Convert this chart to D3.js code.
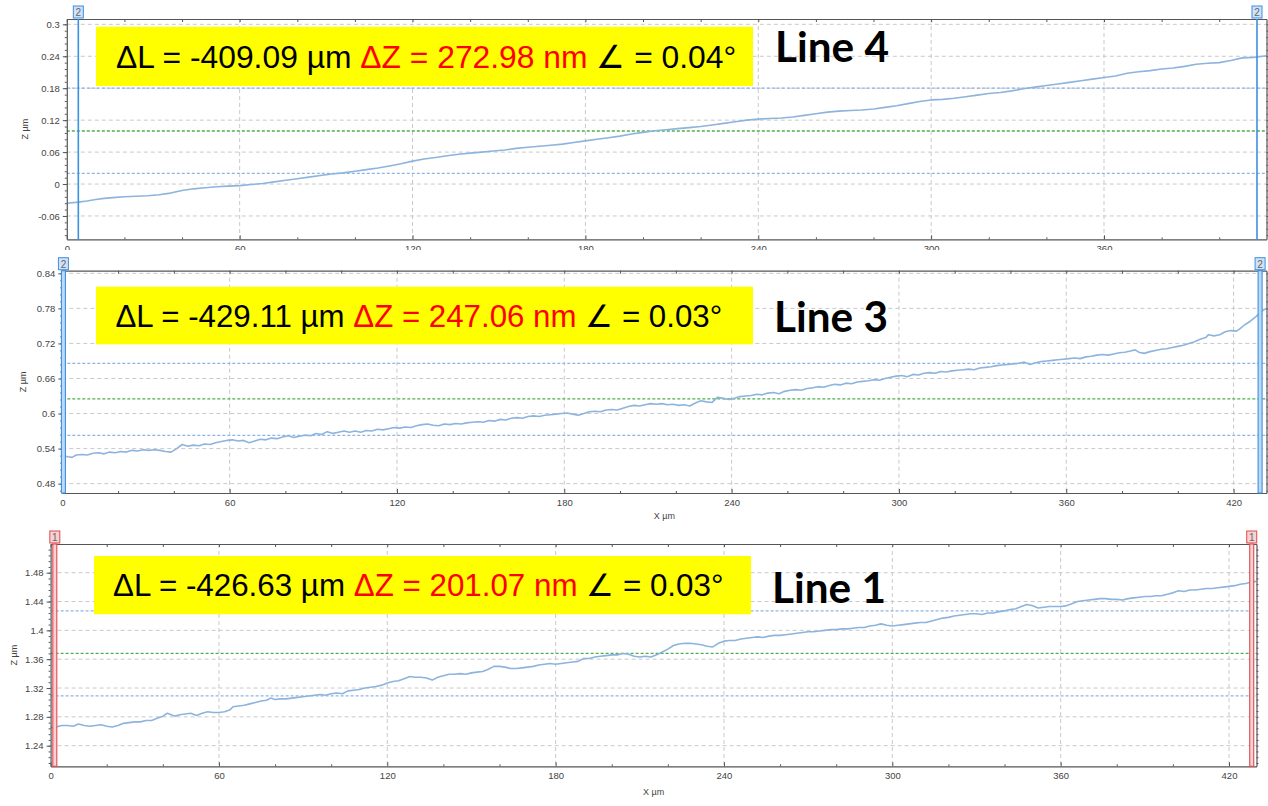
<!DOCTYPE html>
<html><head><meta charset="utf-8">
<script src="https://cdn.jsdelivr.net/npm/d3@7"></script>
<style>
html,body{margin:0;padding:0;background:#fff;}
svg{display:block;}
</style></head>
<body>
<svg id="chart" width="1268" height="806"></svg>
<script>
// ---------------- DATA ----------------
const xTicks = [0, 60, 120, 180, 240, 300, 360, 420];
const xMinor = [20, 40, 80, 100, 140, 160, 200, 220, 260, 280, 320, 340, 380, 400, 440];

// Line 4 (top)
const line4X = [0,4,7,10,13,17,20,24,28,32,36,40,44,48,52,56,60,64,68,72,76,80,84,88,92,96,100,104,108,112,116,120,124,128,132,136,140,144,148,152,156,160,164,168,172,176,180,184,188,192,196,200,204,208,212,216,220,224,228,232,236,240,244,248,252,256,260,264,268,272,276,280,284,288,292,296,300,304,308,312,316,320,324,328,332,336,340,344,348,352,356,360,364,368,372,376,380,384,388,392,396,400,404,408,412,416.4];
const line4Z = [-0.036,-0.034,-0.032,-0.029,-0.027,-0.025,-0.024,-0.023,-0.022,-0.020,-0.017,-0.012,-0.009,-0.007,-0.005,-0.004,-0.003,-0.001,0.001,0.004,0.007,0.010,0.013,0.016,0.019,0.021,0.024,0.027,0.030,0.034,0.038,0.043,0.047,0.050,0.053,0.056,0.058,0.060,0.062,0.064,0.067,0.069,0.071,0.073,0.075,0.078,0.081,0.084,0.087,0.090,0.094,0.097,0.100,0.102,0.104,0.106,0.108,0.111,0.114,0.117,0.120,0.122,0.123,0.124,0.126,0.129,0.132,0.135,0.137,0.138,0.139,0.141,0.144,0.147,0.151,0.155,0.158,0.159,0.161,0.164,0.167,0.170,0.172,0.175,0.179,0.182,0.185,0.188,0.191,0.194,0.197,0.200,0.203,0.208,0.211,0.213,0.216,0.218,0.221,0.225,0.227,0.228,0.232,0.237,0.238,0.241];
const line4YTicks = [-0.06, 0, 0.06, 0.12, 0.18, 0.24, 0.3];
const line4YLabels = ["-0.06", "0", "0.06", "0.12", "0.18", "0.24", "0.3"];
const line4RefBlue = [0.18, 0.0202];
const line4RefGreen = [0.0996];
const line4Cursors = [4.0, 413.1];
const line4Text = ["\u0394L = -409.09 \u00b5m ", "\u0394Z = 272.98 nm", " \u2220 = 0.04\u00b0"];
const line4Name = "Line 4";

// Line 3 (middle)
const line3X = [0,2,3.5,5,7,9,11,13,15,17,19,21,23,25,27,29,31,33,35,37,39,41,43,45,47,49,51,53,55,57,59,61,63,65,67,69,71,73,75,77,79,81,83,85,87,89,91,93,95,97,99,101,103,105,107,109,111,113,115,117,119,121,123,125,127,129,131,133,135,137,139,141,143,145,147,149,151,153,155,157,159,161,163,165,167,169,171,173,175,177,179,181,183,185,187,189,191,193,195,197,199,201,203,205,207,209,211,213,215,217,219,221,223,225,227,229,231,233,235,237,239,241,243,245,247,249,251,253,255,257,259,261,263,265,267,269,271,273,275,277,279,281,283,285,287,289,291,293,295,297,299,301,303,305,307,309,311,313,315,317,319,321,323,325,327,329,331,333,335,337,339,341,343,345,347,349,351,353,355,357,359,361,363,365,367,369,371,373,375,377,379,381,383,384.7,386,388,390,392,394,396,398,400,402,404,406,408,410,411,413,415,417,419,421,422,424,426,428,430,431.8];
const line3Z = [0.528,0.526,0.525,0.529,0.530,0.529,0.532,0.533,0.531,0.534,0.533,0.535,0.534,0.537,0.536,0.538,0.537,0.538,0.537,0.535,0.534,0.540,0.547,0.544,0.546,0.545,0.548,0.547,0.550,0.552,0.554,0.555,0.553,0.554,0.550,0.553,0.556,0.555,0.558,0.557,0.560,0.562,0.559,0.561,0.563,0.562,0.566,0.564,0.569,0.566,0.568,0.570,0.568,0.570,0.568,0.571,0.570,0.573,0.572,0.574,0.576,0.575,0.577,0.576,0.579,0.581,0.582,0.580,0.579,0.582,0.581,0.583,0.582,0.584,0.585,0.586,0.585,0.588,0.587,0.590,0.589,0.592,0.593,0.592,0.595,0.596,0.595,0.597,0.598,0.599,0.600,0.601,0.599,0.597,0.600,0.603,0.604,0.603,0.606,0.607,0.606,0.609,0.612,0.614,0.613,0.615,0.617,0.616,0.617,0.615,0.616,0.614,0.615,0.613,0.618,0.622,0.620,0.619,0.628,0.626,0.624,0.626,0.629,0.630,0.631,0.633,0.632,0.635,0.636,0.634,0.638,0.640,0.641,0.640,0.643,0.644,0.646,0.645,0.648,0.650,0.649,0.652,0.651,0.654,0.655,0.656,0.658,0.657,0.660,0.662,0.664,0.665,0.663,0.667,0.666,0.669,0.670,0.669,0.672,0.671,0.673,0.674,0.675,0.676,0.675,0.678,0.679,0.680,0.682,0.683,0.684,0.685,0.686,0.688,0.684,0.687,0.689,0.690,0.691,0.692,0.693,0.694,0.695,0.694,0.697,0.698,0.700,0.701,0.700,0.702,0.704,0.705,0.707,0.709,0.705,0.703,0.706,0.708,0.710,0.711,0.713,0.715,0.717,0.720,0.723,0.727,0.730,0.735,0.733,0.735,0.740,0.742,0.741,0.744,0.752,0.758,0.766,0.775,0.780];
const line3YTicks = [0.48, 0.54, 0.6, 0.66, 0.72, 0.78, 0.84];
const line3YLabels = ["0.48", "0.54", "0.6", "0.66", "0.72", "0.78", "0.84"];
const line3RefBlue = [0.686, 0.5628];
const line3RefGreen = [0.625];
const line3Cursors = [0.4, 429.5];
const line3Text = ["\u0394L = -429.11 \u00b5m ", "\u0394Z = 247.06 nm", " \u2220 = 0.03\u00b0"];
const line3Name = "Line 3";

// Line 1 (bottom)
const line1X = [0,2,4,6,8,10,12,14,16,18,20,22,24,26,28,30,32,34,36,38,40,41.6,43,44.3,46,48,50,52,54,56,58,60,62,64,65,67,69,71,73,75,77,78.4,80,82,84,86,88,90,92,94,96,98,100,102,104,106,108,110,112,114,116,118,120,122,124,126,128,130,132,134,136,138,140,142,144,146,148,150,152,154,156,158,160,162,164,166,168,170,172,174,176,178,180,182,184,186,188,190,192,194,196,198,200,202,204,206,208,210,212,214,216,218,220,222,224,226,228,230,232,234,236,238,240,242,244,246,248,250,252,254,256,258,260,262,264,266,268,270,272,274,276,278,280,282,284,286,288,290,292,294,296,298,300,302,304,306,308,310,312,314,316,318,320,322,324,326,328,330,332,334,336,338,340,342,344,346,348,350,352,354,356,358,360,362,364,366,368,370,372,374,376,378,380,382,384,386,388,390,392,394,396,398,400,402,404,406,408,410,412,414,416,418,420,422,424,426,428,429.8];
const line1Z = [1.265,1.266,1.268,1.268,1.267,1.270,1.268,1.267,1.268,1.269,1.267,1.266,1.268,1.271,1.272,1.273,1.273,1.275,1.275,1.278,1.281,1.285,1.283,1.281,1.283,1.284,1.285,1.282,1.285,1.287,1.286,1.286,1.287,1.290,1.294,1.295,1.296,1.298,1.300,1.302,1.303,1.306,1.304,1.305,1.305,1.306,1.307,1.308,1.309,1.310,1.311,1.310,1.312,1.313,1.312,1.316,1.317,1.318,1.320,1.321,1.322,1.324,1.327,1.329,1.330,1.333,1.336,1.335,1.335,1.334,1.331,1.335,1.337,1.339,1.339,1.340,1.339,1.341,1.342,1.343,1.346,1.350,1.350,1.349,1.347,1.347,1.348,1.349,1.350,1.352,1.353,1.354,1.353,1.354,1.355,1.356,1.357,1.361,1.361,1.363,1.364,1.365,1.366,1.366,1.368,1.367,1.364,1.363,1.364,1.363,1.366,1.370,1.374,1.379,1.381,1.382,1.382,1.381,1.380,1.378,1.377,1.382,1.385,1.386,1.386,1.388,1.389,1.390,1.391,1.390,1.392,1.393,1.393,1.394,1.395,1.396,1.397,1.398,1.398,1.399,1.400,1.401,1.401,1.402,1.402,1.403,1.404,1.404,1.406,1.407,1.409,1.407,1.406,1.407,1.408,1.409,1.410,1.411,1.411,1.413,1.415,1.417,1.418,1.420,1.421,1.422,1.423,1.423,1.422,1.424,1.424,1.426,1.427,1.429,1.430,1.433,1.436,1.434,1.431,1.432,1.433,1.433,1.433,1.434,1.437,1.440,1.441,1.442,1.443,1.444,1.444,1.443,1.443,1.442,1.444,1.445,1.446,1.447,1.447,1.448,1.448,1.450,1.452,1.455,1.454,1.456,1.456,1.457,1.458,1.458,1.459,1.460,1.461,1.462,1.464,1.465,1.467,1.468];
const line1YTicks = [1.24, 1.28, 1.32, 1.36, 1.4, 1.44, 1.48];
const line1YLabels = ["1.24", "1.28", "1.32", "1.36", "1.4", "1.44", "1.48"];
const line1RefBlue = [1.4269, 1.309];
const line1RefGreen = [1.368];
const line1Cursors = [1.5, 428.1];
const line1Text = ["\u0394L = -426.63 \u00b5m ", "\u0394Z = 201.07 nm", " \u2220 = 0.03\u00b0"];
const line1Name = "Line 1";

// ---------------- LAYOUT ----------------
const panels = [
  { xs: line4X, zs: line4Z, yTicks: line4YTicks, yLabels: line4YLabels, yMinorStep: 0.012,
    blue: line4RefBlue, green: line4RefGreen, cursors: line4Cursors, text: line4Text, name: line4Name,
    xMax: 416.4, yDomain: [-0.1038, 0.31], left: 66.8, right: 1266.5, top: 19, bottom: 239.3,
    clipBottom: 250, cursorColor: "#3d8fe0", cursorFill: "#3d8fe0", cursorW: 1.6, markerFill: "#cfe2f7", marker: "2",
    box: [96, 26.7, 753, 86], textX: 116, textW: 620, nameX: 775, nameBase: 62, zLabelX: 25, xLabelY: 265 },
  { xs: line3X, zs: line3Z, yTicks: line3YTicks, yLabels: line3YLabels, yMinorStep: 0.012,
    blue: line3RefBlue, green: line3RefGreen, cursors: line3Cursors, text: line3Text, name: line3Name,
    xMax: 431.8, yDomain: [0.464, 0.8445], left: 62.3, right: 1266.5, top: 270.7, bottom: 493,
    clipBottom: 525, cursorColor: "#3d8fe0", cursorFill: "#bcd9f5", cursorW: 4, markerFill: "#cfe2f7", marker: "2",
    box: [96, 286.7, 753, 344.3], textX: 115.5, textW: 607, nameX: 774, nameBase: 331.5, zLabelX: 23, xLabelY: 519 },
  { xs: line1X, zs: line1Z, yTicks: line1YTicks, yLabels: line1YLabels, yMinorStep: 0.008,
    blue: line1RefBlue, green: line1RefGreen, cursors: line1Cursors, text: line1Text, name: line1Name,
    xMax: 429.8, yDomain: [1.2114, 1.5198], left: 50.6, right: 1256.5, top: 544, bottom: 766.3,
    clipBottom: 806, cursorColor: "#e0494f", cursorFill: "#f7d3d5", cursorW: 4, markerFill: "#f6d2d4", marker: "1",
    box: [94, 556, 751, 614.3], textX: 113, textW: 611, nameX: 772, nameBase: 603, zLabelX: 14, xLabelY: 795 }
];

const svg = d3.select("#chart");
const defs = svg.append("defs");

panels.forEach((p, pi) => {
  const clipTop = pi === 0 ? 0 : panels[pi - 1].clipBottom;
  defs.append("clipPath").attr("id", "clip" + pi)
    .append("rect").attr("x", 0).attr("y", clipTop).attr("width", 1268).attr("height", p.clipBottom - clipTop);
  const g = svg.append("g").attr("clip-path", `url(#clip${pi})`);

  const x = d3.scaleLinear().domain([0, p.xMax]).range([p.left, p.right]);
  const y = d3.scaleLinear().domain(p.yDomain).range([p.bottom, p.top]);

  // grid
  g.append("g").selectAll("line").data(xTicks.filter(d => d > 0 && d < p.xMax)).join("line")
    .attr("x1", d => x(d)).attr("x2", d => x(d)).attr("y1", p.top).attr("y2", p.bottom)
    .attr("stroke", "#c9c9c9").attr("stroke-width", 1).attr("stroke-dasharray", "4,3");
  g.append("g").selectAll("line").data(p.yTicks).join("line")
    .attr("x1", p.left).attr("x2", p.right).attr("y1", d => y(d)).attr("y2", d => y(d))
    .attr("stroke", "#c9c9c9").attr("stroke-width", 1).attr("stroke-dasharray", "4,3");

  // reference lines
  g.append("g").selectAll("line").data(p.blue).join("line")
    .attr("x1", p.left).attr("x2", p.right).attr("y1", d => y(d)).attr("y2", d => y(d))
    .attr("stroke", "#8fb5e3").attr("stroke-width", 1.2).attr("stroke-dasharray", "3,2");
  g.append("g").selectAll("line").data(p.green).join("line")
    .attr("x1", p.left).attr("x2", p.right).attr("y1", d => y(d)).attr("y2", d => y(d))
    .attr("stroke", "#4fae4f").attr("stroke-width", 1.3).attr("stroke-dasharray", "3,2");

  // profile
  const pts = p.xs.map((xv, i) => [xv, p.zs[i]]);
  g.append("path").datum(pts)
    .attr("d", d3.line().x(d => x(d[0])).y(d => y(d[1])))
    .attr("fill", "none").attr("stroke", "#8db4dd").attr("stroke-width", 1.6).attr("stroke-linejoin", "round");

  // axes
  const axStyle = sel => {
    sel.selectAll(".domain").attr("stroke", "#555").attr("stroke-width", 1.2);
    sel.selectAll(".tick line").attr("stroke", "#555");
    sel.selectAll(".tick text").attr("fill", "#444").style("font-family", "'Liberation Sans', Arial, sans-serif").style("font-size", "9.5px");
  };
  g.append("g").attr("transform", `translate(0,${p.bottom})`)
    .call(d3.axisBottom(x).tickValues(xTicks.filter(d => d <= p.xMax)).tickFormat(d3.format("d"))
      .tickSizeInner(-4).tickSizeOuter(0).tickPadding(6)).call(axStyle);
  g.append("g").attr("transform", `translate(0,${p.bottom})`)
    .call(d3.axisBottom(x).tickValues(xMinor.filter(d => d <= p.xMax)).tickFormat("").tickSizeInner(-2).tickSizeOuter(0))
    .call(axStyle).select(".domain").remove();
  g.append("g").attr("transform", `translate(0,${p.top})`)
    .call(d3.axisTop(x).tickValues(xTicks.concat(xMinor).filter(d => d <= p.xMax)).tickFormat("").tickSizeInner(-3).tickSizeOuter(0))
    .call(axStyle);

  const yMinor = d3.range(Math.ceil(p.yDomain[0] / p.yMinorStep), Math.floor(p.yDomain[1] / p.yMinorStep) + 1)
    .map(k => +(k * p.yMinorStep).toFixed(4));
  g.append("g").attr("transform", `translate(${p.left},0)`)
    .call(d3.axisLeft(y).tickValues(p.yTicks).tickFormat((d, i) => p.yLabels[i]).tickSizeInner(4).tickSizeOuter(0).tickPadding(3))
    .call(axStyle);
  g.append("g").attr("transform", `translate(${p.left},0)`)
    .call(d3.axisLeft(y).tickValues(yMinor).tickFormat("").tickSizeInner(2).tickSizeOuter(0))
    .call(axStyle).select(".domain").remove();
  g.append("g").attr("transform", `translate(${p.right},0)`)
    .call(d3.axisRight(y).tickValues(yMinor).tickFormat("").tickSizeInner(2).tickSizeOuter(0))
    .call(axStyle);

  // axis titles
  g.append("text").attr("transform", `translate(${p.zLabelX},${(p.top + p.bottom) / 2}) rotate(-90)`)
    .attr("text-anchor", "middle").attr("dy", "0.35em")
    .style("font-family", "'Liberation Sans', Arial, sans-serif").style("font-size", "9px").attr("fill", "#444")
    .text("Z \u00b5m");
  g.append("text").attr("x", (p.left + p.right) / 2).attr("y", p.xLabelY).attr("text-anchor", "middle")
    .style("font-family", "'Liberation Sans', Arial, sans-serif").style("font-size", "9px").attr("fill", "#444")
    .text("X \u00b5m");

  // cursors
  p.cursors.forEach(c => {
    const cx = x(c);
    if (p.cursorW > 2) {
      g.append("rect").attr("x", cx - p.cursorW / 2).attr("y", p.top).attr("width", p.cursorW).attr("height", p.bottom - p.top)
        .attr("fill", p.cursorFill).attr("stroke", p.cursorColor).attr("stroke-width", 1.1);
    } else {
      g.append("line").attr("x1", cx).attr("x2", cx).attr("y1", p.top).attr("y2", p.bottom)
        .attr("stroke", p.cursorColor).attr("stroke-width", p.cursorW);
    }
    g.append("rect").attr("x", cx - 5).attr("y", p.top - 13).attr("width", 10).attr("height", 12)
      .attr("fill", p.markerFill).attr("stroke", p.cursorColor).attr("stroke-width", 1);
    g.append("text").attr("x", cx).attr("y", p.top - 3).attr("text-anchor", "middle")
      .style("font-family", "'Liberation Sans', Arial, sans-serif").style("font-size", "10px").attr("fill", "#666")
      .text(p.marker);
  });

  // annotation box
  g.append("rect").attr("x", p.box[0]).attr("y", p.box[1]).attr("width", p.box[2] - p.box[0]).attr("height", p.box[3] - p.box[1])
    .attr("fill", "#ffff00");
  const baseline = (p.box[1] + p.box[3]) / 2 + 11.2;
  const t = g.append("text").attr("x", p.textX).attr("y", baseline)
    .style("font-family", "'Liberation Sans', Arial, sans-serif").style("font-size", "31px");
  t.append("tspan").attr("fill", "#000").text(p.text[0]);
  t.append("tspan").attr("fill", "#ff0000").text(p.text[1]);
  t.append("tspan").attr("fill", "#000").text(p.text[2]);
  const w = t.node().getComputedTextLength();
  if (w > 0) t.style("font-size", (31 * p.textW / w).toFixed(2) + "px");

  const nm = g.append("text").attr("x", p.nameX).attr("y", p.nameBase)
    .style("font-family", "Lato, 'Open Sans', sans-serif").style("font-weight", "700").style("font-size", "40px")
    .attr("fill", "#000").text(p.name);
  const nw = nm.node().getComputedTextLength();
  if (nw > 0) nm.style("font-size", (40 * 114 / nw).toFixed(2) + "px");
});
</script>
</body></html>
